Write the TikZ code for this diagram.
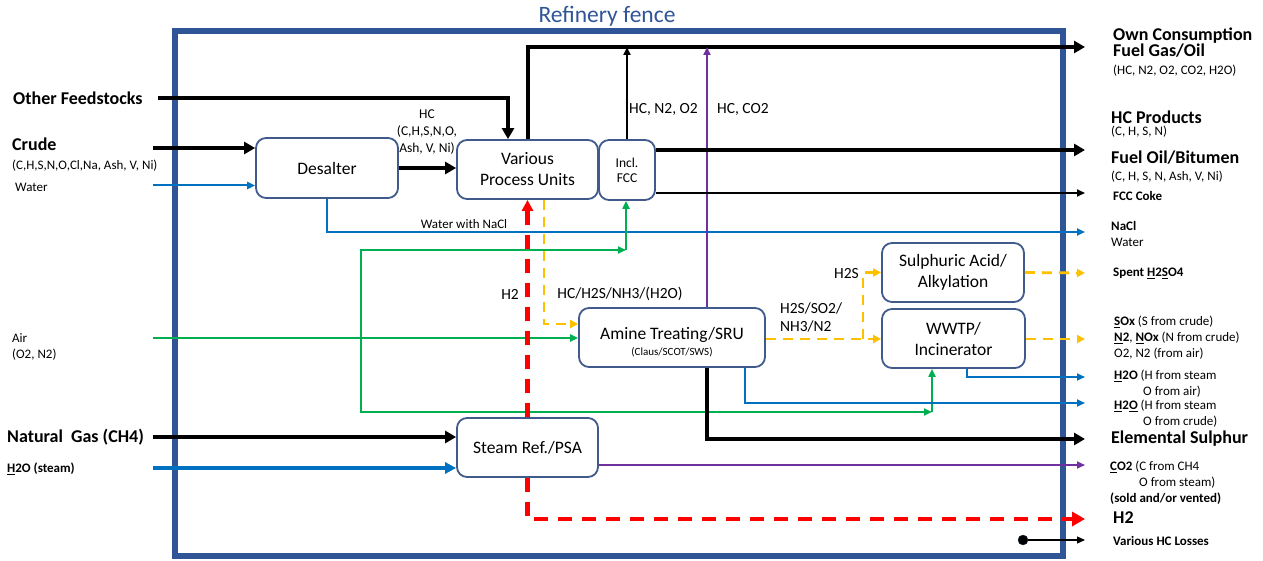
\documentclass[tikz,border=0pt]{standalone}
\usepackage{fontspec}
\setmainfont{Carlito}
\usetikzlibrary{arrows.meta}

\definecolor{fenceblue}{RGB}{47, 85, 151}
\definecolor{unitline}{RGB}{65, 90, 140}
\definecolor{waterblue}{RGB}{0, 112, 192}
\definecolor{airgreen}{RGB}{0, 176, 80}
\definecolor{cotwo}{RGB}{112, 48, 160}
\definecolor{sourgas}{RGB}{255, 192, 0}
\definecolor{hydrogen}{RGB}{255, 0, 0}

\tikzset{
  unit/.style={draw=unitline, line width=1.8pt, rounded corners=10pt, fill=white,
    align=center, inner sep=0pt, font=\fontsize{17.5}{21}\selectfont},
  flowlabel/.style={inner sep=0pt, font=\fontsize{15.5}{18}\selectfont},
  smalllabel/.style={inner sep=0pt, font=\fontsize{13}{16}\selectfont},
  inlabel/.style={anchor=mid west, inner sep=0pt, yshift=-2.5pt},
  outlabel/.style={anchor=mid west, inner sep=0pt, yshift=-2.5pt},
  bigbold/.style={font=\fontsize{18}{21}\selectfont\bfseries, yshift=-1pt},
  smallbold/.style={font=\fontsize{13}{16}\selectfont\bfseries},
  smallfont/.style={font=\fontsize{13}{16}\selectfont},
  thickflow/.style={draw=black, line width=4pt, -{Triangle[length=11pt,width=12pt]}},
  thinflow/.style={draw=black, line width=1.8pt, -{Triangle[length=8pt,width=7pt]}},
  waterflow/.style={draw=waterblue, line width=2pt, -{Triangle[length=8pt,width=7pt]}},
  steamflow/.style={draw=waterblue, line width=3.5pt, -{Triangle[length=11pt,width=11pt]}},
  airflow/.style={draw=airgreen, line width=2pt, -{Triangle[length=8pt,width=7pt]}},
  cotwoflow/.style={draw=cotwo, line width=2pt, -{Triangle[length=8pt,width=7pt]}},
  sourflow/.style={draw=sourgas, line width=2.8pt, dash pattern=on 10pt off 7pt,
    -{Triangle[length=8pt,width=8pt]}},
  hydroflow/.style={draw=hydrogen, line width=4.5pt, dash pattern=on 14pt off 10pt,
    -{Triangle[length=11pt,width=11pt]}},
}

\begin{document}
\begin{tikzpicture}[x=1pt, y=-1pt]
    \useasboundingbox (0,0) rectangle (1263,561);

    % Refinery fence
    \draw[fenceblue, line width=5.5pt] (175,31) rectangle (1063,556);
    \node[text=fenceblue, font=\fontsize{23.5}{28}\selectfont, inner sep=0pt] (fencetitle) at (607,16.5) {Refinery fence};

    % Process units
    \node[unit, minimum width=142pt, minimum height=60pt] (desalter) at (327,168) {Desalter};
    \node[unit, minimum width=141pt, minimum height=59pt] (vpu) at (527.5,169.5) {Various\\Process Units};
    \node[unit, minimum width=56pt, minimum height=60pt, font=\fontsize{13.5}{15}\selectfont] (fcc) at (627,170) {Incl.\\FCC};
    \node[unit, minimum width=186pt, minimum height=59pt] (amine) at (672,337.5) {\rule{0pt}{21pt}Amine Treating/SRU\\[-5pt]{\fontsize{11}{12}\selectfont (Claus/SCOT/SWS)}};
    \node[unit, minimum width=141pt, minimum height=59pt] (steamref) at (527.5,447.5) {Steam Ref./PSA};
    \node[unit, minimum width=142pt, minimum height=59pt] (acid) at (953,272.5) {Sulphuric Acid/\\Alkylation};
    \node[unit, minimum width=143pt, minimum height=59pt] (wwtp) at (953.5,338.5) {WWTP/\\Incinerator};

    % Feeds
    \node[inlabel, bigbold] (otherlbl) at (13,98.5) {Other Feedstocks};
    \node[inlabel, bigbold] (crudelbl) at (12,145) {Crude};
    \node[inlabel, smallfont] (crudecomp) at (12,165) {(C,H,S,N,O,Cl,Na, Ash, V, Ni)};
    \node[inlabel, smallfont] (waterlbl) at (15,187) {Water};
    \node[inlabel, smallfont] (airlbl) at (12,338) {Air};
    \node[inlabel, smallfont] (aircomp) at (12,354) {(O2, N2)};
    \node[inlabel, bigbold] (gaslbl) at (7,437) {Natural~ Gas (CH4)};
    \node[inlabel, smallbold] (steamlbl) at (7,468) {\underline{H}2O (steam)};
    \coordinate (otherin) at (158,98);
    \coordinate (crudein) at (153,148);
    \coordinate (waterin) at (153,185.5);
    \coordinate (airin) at (153,338);
    \coordinate (gasin) at (153,437);
    \coordinate (steamin) at (153,468);

    \draw[thickflow] (otherin) -| ([xshift=-19.5pt]vpu.north);
    \draw[thickflow] (crudein) -- (desalter.west |- crudein);
    \draw[waterflow] (waterin) -- (desalter.west |- waterin);
    \draw[thickflow] (desalter.east) -- (vpu.west |- desalter.east);
    \node[inner sep=0pt, font=\fontsize{13.5}{17}\selectfont, align=center] (hclbl) at (427,132) {HC\\(C,H,S,N,O,\\Ash, V, Ni)};

    % Products
    \coordinate (fuelout) at (1085,47);
    \coordinate (hcout) at (1085,150);
    \coordinate (cokeout) at (1085,193);
    \coordinate (naclout) at (1085,232);
    \draw[waterflow] (desalter.south) |- (naclout);
    \node[smalllabel] (nacllbl) at (464,224) {Water with NaCl};
    \draw[thickflow] (vpu.north) |- (fuelout);
    \draw[thinflow] (fcc.north) -- (fcc.north |- fuelout);
    \node[flowlabel, anchor=mid west, yshift=-3.5pt] (fccgaslbl) at (629,108) {HC, N2, O2};
    \draw[cotwoflow] ([xshift=35pt]amine.north) -- ([xshift=35pt]amine.north |- fuelout);
    \node[flowlabel, anchor=mid west, yshift=-3.5pt] (aminegaslbl) at (717,108) {HC, CO2};
    \draw[thickflow] (fcc.east |- hcout) -- (hcout);
    \draw[thinflow] (fcc.east |- cokeout) -- (cokeout);

    % Air
    \coordinate (airsplit) at (361,338);
    \coordinate (fccair) at (626,250);
    \coordinate (wwtpair) at (932,412);
    \draw[airflow] (airin) -- (amine.west |- airin);
    \draw[airflow] (airsplit) |- (fccair);
    \draw[airflow] (fccair) -- (fccair |- fcc.south);
    \draw[airflow] (airsplit) |- (wwtpair);
    \draw[airflow] (wwtpair) -- (wwtpair |- wwtp.south);

    % Hydrogen
    \coordinate (htwoout) at (1085,519);
    \draw[hydroflow] (steamref.north) -- (vpu.south);
    \node[flowlabel] (htwolbl) at (510,294) {H2};
    \draw[hydroflow, -{Triangle[length=13pt,width=14pt]}] (steamref.south) |- (htwoout);

    % Sour gas
    \coordinate (sourturn) at (863,339);
    \coordinate (spentout) at (1085,273);
    \coordinate (flueout) at (1085,339);
    \draw[sourflow] ([xshift=16.5pt]vpu.south) |- ([yshift=13.5pt]amine.west);
    \node[flowlabel] (sourlbl) at (620,294) {HC/H2S/NH3/(H2O)};
    \draw[sourflow] (amine.east |- sourturn) -- (wwtp.west |- sourturn);
    \draw[sourflow] (sourturn) |- (acid.west);
    \node[flowlabel, anchor=west, align=left] (amineoutlbl) at (780,317) {H2S/SO2/\\NH3/N2};
    \node[flowlabel, anchor=east] (acidinlbl) at (859,274) {H2S};
    \draw[sourflow] (acid.east) -- (spentout);
    \draw[sourflow] (wwtp.east |- flueout) -- (flueout);

    % Water, sulphur, CO2
    \coordinate (wwtpwaterout) at (1085,377);
    \coordinate (aminewaterout) at (1085,403);
    \coordinate (sulphurout) at (1085,439);
    \coordinate (cotwoout) at (1085,465);
    \draw[waterflow] ([xshift=13.5pt]wwtp.south) |- (wwtpwaterout);
    \draw[waterflow] ([xshift=73pt]amine.south) |- (aminewaterout);
    \draw[thickflow] ([xshift=35pt]amine.south) |- (sulphurout);
    \draw[thickflow] (gasin) -- (steamref.west |- gasin);
    \draw[steamflow] (steamin) -- (steamref.west |- steamin);
    \draw[cotwoflow] (steamref.east |- cotwoout) -- (cotwoout);

    % Losses
    \node[circle, fill=black, draw=fenceblue!50!black, minimum size=10pt, inner sep=0pt] (lossdot) at (1023,540) {};
    \coordinate (lossout) at (1085,540);
    \draw[thinflow, line width=1.2pt] (lossdot) -- (lossout);

    % Output labels
    \node[outlabel, bigbold] (ownlbl) at (1113,34.5) {Own Consumption};
    \node[outlabel, bigbold] (fuellbl) at (1113,51) {Fuel Gas/Oil};
    \node[outlabel, smallfont] (fuelcomp) at (1113,70) {(HC, N2, O2, CO2, H2O)};
    \node[outlabel, bigbold] (hcprodlbl) at (1111,117.5) {HC Products};
    \node[outlabel, smallfont] (hccomp) at (1111,131) {(C, H, S, N)};
    \node[outlabel, bigbold] (bitlbl) at (1111,157.5) {Fuel Oil/Bitumen};
    \node[outlabel, smallfont] (bitcomp) at (1111,176) {(C, H, S, N, Ash, V, Ni)};
    \node[outlabel, smallbold] (cokelbl) at (1113,196) {FCC Coke};
    \node[outlabel, smallbold] (nacloutlbl) at (1111,226) {NaCl};
    \node[outlabel, smallfont] (wateroutlbl) at (1111,242) {Water};
    \node[outlabel, smallbold] (spentlbl) at (1113,272) {Spent \underline{H}2\underline{S}O4};
    \node[outlabel, smallfont] (soxlbl) at (1114,321) {\textbf{\underline{S}Ox} (S from crude)};
    \node[outlabel, smallfont] (noxlbl) at (1114,337) {\textbf{\underline{N}2}, \textbf{\underline{N}Ox} (N from crude)};
    \node[outlabel, smallfont] (airoutlbl) at (1114,353) {O2, N2 (from air)};
    \node[outlabel, smallfont] (hwairlbl) at (1114,375) {\textbf{\underline{H}2O} (H from steam};
    \node[outlabel, smallfont] (owairlbl) at (1143,391) {O from air)};
    \node[outlabel, smallfont] (hwcrudelbl) at (1114,405) {\textbf{\underline{H}2\underline{O}} (H from steam};
    \node[outlabel, smallfont] (owcrudelbl) at (1143,421) {O from crude)};
    \node[outlabel, bigbold] (sulphurlbl) at (1111,438) {Elemental Sulphur};
    \node[outlabel, smallfont] (cotwolbl) at (1110,466) {\textbf{\underline{C}O2} (C from CH4};
    \node[outlabel, smallfont] (osteamlbl) at (1139,482) {O from steam)};
    \node[outlabel, smallbold] (soldlbl) at (1110,498) {(sold and/or vented)};
    \node[outlabel, bigbold] (htwooutlbl) at (1113,518) {H2};
    \node[outlabel, smallbold] (losslbl) at (1113,541) {Various HC Losses};
\end{tikzpicture}
\end{document}
